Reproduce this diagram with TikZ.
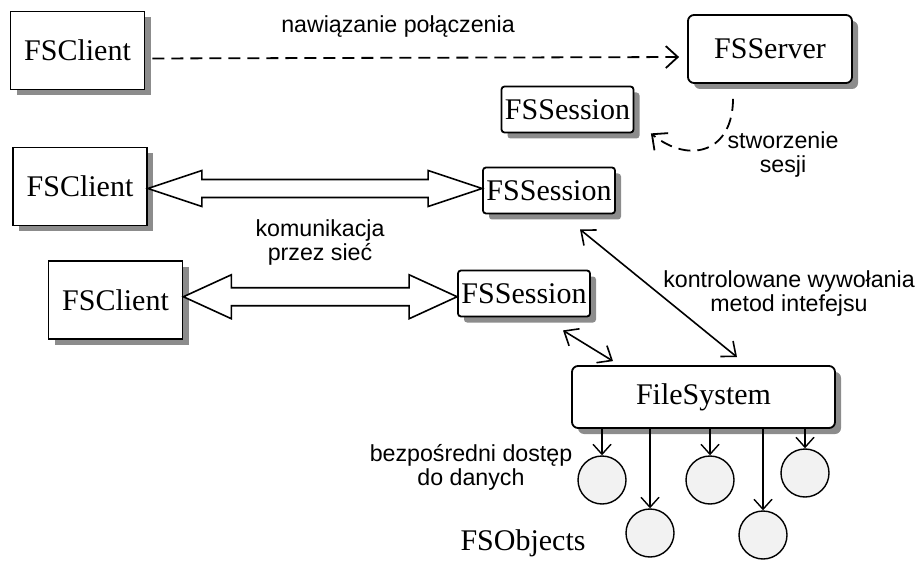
\documentclass[tikz,border=0pt]{standalone}
\usepackage{fontspec}
\setmainfont{Liberation Serif}
\setsansfont{Liberation Sans}
\usetikzlibrary{arrows.meta,shadows,calc}

\begin{document}
\begin{tikzpicture}[x=0.5pt, y=-0.5pt,
    box/.style={draw, line width=0.9pt, fill=white, font=\fontsize{15}{18}\selectfont,
      drop shadow={shadow xshift=3pt, shadow yshift=-3pt, fill=black!45, opacity=1}},
    client/.style={box, minimum width=67pt, minimum height=39pt},
    server/.style={box, rounded corners=3pt, minimum width=82pt, minimum height=34pt},
    session/.style={box, rounded corners=1.5pt, inner sep=1pt, minimum width=66pt, minimum height=23pt},
    fsys/.style={box, rounded corners=3pt, minimum width=131.5pt, minimum height=31pt},
    fsobj/.style={circle, draw, line width=0.7pt, fill=gray!10, minimum size=24pt},
    note/.style={font=\sffamily\fontsize{11.6}{12}\selectfont, align=center},
    dlink/.style={line width=0.9pt, dash pattern=on 6pt off 3.5pt, -{Straight Barb[length=6pt,width=11pt]}},
    calls/.style={line width=0.8pt, {Straight Barb[length=6pt,width=10pt]}-{Straight Barb[length=6pt,width=10pt]}},
    reach/.style={line width=0.7pt, -{Straight Barb[length=5pt,width=9pt]}},
    pipe/.style={draw, line width=0.8pt, fill=white}]
    \useasboundingbox (0,0) rectangle (920,561);
    % Cliente y servidor
    \node[client] (cl1) at (77.5,50.5) {FSClient};
    \node[server] (srv) at (770,49) {FSServer};
    \node[session] (ses0) at (567.5,109.5) {FSSession};
    \draw[dlink, shorten <=3.5pt, shorten >=4pt] ([yshift=-4pt]cl1.east) -- ([yshift=-4pt]srv.west);
    \node[note] (lconn) at (398,27) {nawiązanie połączenia};
    \draw[dlink] ([xshift=-18.5pt,yshift=-7.5pt]srv.south) .. controls +(0,52) and +(40,32) .. ([xshift=8.25pt]ses0.south east);
    \node[note] (lsess) at (783,155) {stworzenie\\sesji};
    % Sesiones abiertas
    \node[client] (cl2) at (80,186.5) {FSClient};
    \node[session] (ses1) at (549,190.5) {FSSession};
    \node[client] (cl3) at (115.5,300) {FSClient};
    \node[session] (ses2) at (524,293.5) {FSSession};
    \draw[pipe] let \p1=(cl2.east), \p2=(ses1.west), \p3=($(cl2.east)!.5!(ses1.west)$) in
      (\x1,\y3) -- (\x1+27pt,\y3+9pt) -- (\x1+27pt,\y3+4.5pt) -- (\x2-27pt,\y3+4.5pt) -- (\x2-27pt,\y3+9pt)
      -- (\x2,\y3) -- (\x2-27pt,\y3-9pt) -- (\x2-27pt,\y3-4.5pt) -- (\x1+27pt,\y3-4.5pt) -- (\x1+27pt,\y3-9pt) -- cycle;
    \draw[pipe] let \p1=(cl3.east), \p2=(ses2.west), \p3=($(cl3.east)!.5!(ses2.west)$) in
      (\x1,\y3) -- (\x1+24pt,\y3+11pt) -- (\x1+24pt,\y3+4.5pt) -- (\x2-24pt,\y3+4.5pt) -- (\x2-24pt,\y3+11pt)
      -- (\x2,\y3) -- (\x2-24pt,\y3-11pt) -- (\x2-24pt,\y3-4.5pt) -- (\x1+24pt,\y3-4.5pt) -- (\x1+24pt,\y3-11pt) -- cycle;
    \node[note] (lnet) at (320,243) {komunikacja\\przez sieć};
    % Sistema de ficheros
    \node[fsys] (fs) at (703.5,397) {FileSystem};
    \draw[calls] ([xshift=15.5pt,yshift=-7.5pt]ses1.south) -- ([xshift=16.75pt,yshift=4pt]fs.north);
    \draw[calls] ([xshift=19.5pt,yshift=-6.5pt]ses2.south) -- ([xshift=-45.25pt,yshift=2pt]fs.north);
    \node[note] (lcall) at (789,294) {kontrolowane wywołania\\metod intefejsu};
    % Objetos
    \node[fsobj] (o1) at (602,480) {};
    \node[fsobj] (o2) at (650,533) {};
    \node[fsobj] (o3) at (710,480) {};
    \node[fsobj] (o4) at (763,535) {};
    \node[fsobj] (o5) at (805,473) {};
    \foreach \o in {o1,o2,o3,o4,o5}
      \draw[reach] (fs.south -| \o.north) -- (\o.north);
    \node[note] (ldata) at (471,467) {bezpośredni dostęp\\do danych};
    \node[font=\fontsize{15}{18}\selectfont] (lobj) at (523,543) {FSObjects};
\end{tikzpicture}
\end{document}
